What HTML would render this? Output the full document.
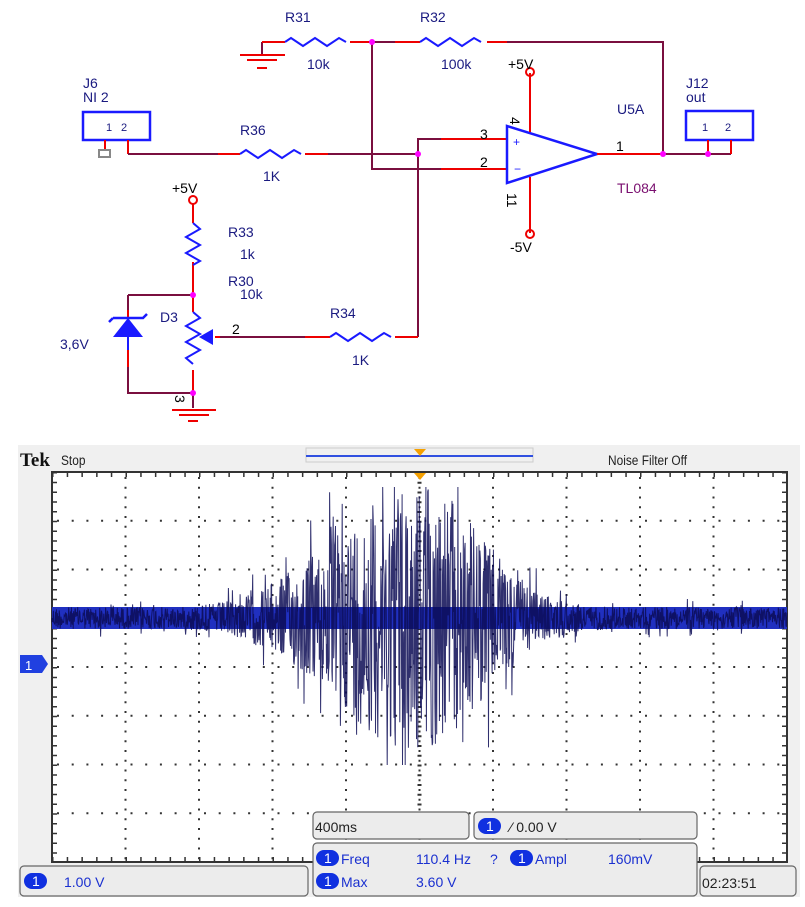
<!DOCTYPE html>
<html><head><meta charset="utf-8"><style>
html,body{margin:0;padding:0;background:#fff;}
svg{display:block}
</style></head><body>
<svg id="s" width="805" height="907" viewBox="0 0 805 907" xmlns="http://www.w3.org/2000/svg" font-family="Liberation Sans, Arial, sans-serif">
<g fill="none" stroke-width="2">
<path d="M262 42V55" stroke="#7a0f3f"/>
<path d="M240 55h45M247 60h30M257 68h10" stroke="#e00"/>
<path d="M262 42h23" stroke="#e00"/>
<path d="M285 42l6-4 12 8 12-8 12 8 12-8 7 4" stroke="#1a1aff"/>
<path d="M350 42h22" stroke="#e00"/>
<path d="M372 42h23" stroke="#7a0f3f"/>
<path d="M395 42h25" stroke="#e00"/>
<path d="M420 42l6-4 12 8 12-8 12 8 12-8 7 4" stroke="#1a1aff"/>
<path d="M487 42h20" stroke="#e00"/>
<path d="M507 42h156V154" stroke="#7a0f3f"/>
<path d="M372 42V169H418h23" stroke="#7a0f3f"/>
<path d="M441 169h66" stroke="#e00"/>
<rect x="83" y="112" width="67" height="28" stroke="#1a1aff" stroke-width="2.5"/>
<path d="M105 140v10M128 140v14" stroke="#e00"/>
<rect x="99" y="150" width="11" height="7" stroke="#888" stroke-width="2"/>
<path d="M128 154h90" stroke="#7a0f3f"/>
<path d="M218 154h22" stroke="#e00"/>
<path d="M240 154l6-4 12 8 12-8 12 8 12-8 7 4" stroke="#1a1aff"/>
<path d="M305 154h23" stroke="#e00"/>
<path d="M328 154h89" stroke="#7a0f3f"/>
<path d="M418 337V139h23" stroke="#7a0f3f"/>
<path d="M441 139h66" stroke="#e00"/>
<path d="M507 126V183L597 154Z" stroke="#1a1aff" stroke-width="2.5"/>
<path d="M530 73V132M530 177V233" stroke="#e00"/>
<circle cx="530" cy="72" r="4" stroke="#e00"/>
<circle cx="530" cy="234" r="4" stroke="#e00"/>
<path d="M597 154h66" stroke="#e00"/>
<path d="M663 154h68" stroke="#7a0f3f"/>
<rect x="686" y="111" width="67" height="29" stroke="#1a1aff" stroke-width="2.5"/>
<path d="M708 140v14M731 140v14" stroke="#e00"/>
<circle cx="193" cy="200" r="4" stroke="#e00"/>
<path d="M193 204V223M193 262V295" stroke="#e00"/>
<path d="M193 223l7 6-14 8 14 8-14 8 14 8-7 4" stroke="#1a1aff"/>
<path d="M128 295h65" stroke="#7a0f3f"/>
<path d="M128 295V310" stroke="#7a0f3f"/>
<path d="M128 310V318M128 350V367" stroke="#e00"/>
<path d="M128 318V350" stroke="#1a1aff"/>
<path d="M128 367V393h65" stroke="#7a0f3f"/>
<path d="M193 295V312M193 370V393" stroke="#e00"/>
<path d="M193 312l7 6-14 8 14 8-14 8 14 8-14 8 7 6" stroke="#1a1aff"/>
<path d="M193 393V408" stroke="#7a0f3f"/>
<path d="M172 410h44M179 415h30M188 421h10" stroke="#e00"/>
<path d="M215 337h5" stroke="#e00"/>
<path d="M220 337h85" stroke="#7a0f3f"/>
<path d="M305 337h25" stroke="#e00"/>
<path d="M330 337l6-4 12 8 12-8 12 8 12-8 7 4" stroke="#1a1aff"/>
<path d="M395 337h23" stroke="#e00"/>
</g>
<path d="M113 337L128 318L143 337Z" fill="#1a1aff"/>
<path d="M113 318h30l4 -4M113 318l-4 4" stroke="#1a1aff" stroke-width="2.5" fill="none"/>
<path d="M199 337L213 329V345Z" fill="#1a1aff"/>
<g fill="#f0f">
<circle cx="372" cy="42" r="3"/><circle cx="418" cy="154" r="3"/><circle cx="663" cy="154" r="3"/><circle cx="708" cy="154" r="3"/>
<circle cx="193" cy="295" r="3"/><circle cx="193" cy="393" r="3"/>
</g>
<g font-size="14" fill="#1a1a80">
<text x="285" y="22">R31</text><text x="307" y="69">10k</text>
<text x="420" y="22">R32</text><text x="441" y="69">100k</text>
<text x="83" y="88">J6</text><text x="83" y="102">NI 2</text>
<text x="240" y="135">R36</text><text x="263" y="181">1K</text>
<text x="686" y="88">J12</text><text x="686" y="102">out</text>
<text x="617" y="114">U5A</text><text x="617" y="193" fill="#7a0f6f">TL084</text>
<text x="228" y="237">R33</text><text x="240" y="259">1k</text>
<text x="228" y="286">R30</text><text x="240" y="299">10k</text>
<text x="160" y="322">D3</text><text x="60" y="349">3,6V</text>
<text x="330" y="318">R34</text><text x="352" y="365">1K</text>
<text x="106" y="131" font-size="11">1</text><text x="121" y="131" font-size="11">2</text>
<text x="702" y="131" font-size="11">1</text><text x="725" y="131" font-size="11">2</text>
</g>
<g font-size="14" fill="#000">
<text x="508" y="69">+5V</text><text x="510" y="252">-5V</text><text x="172" y="193">+5V</text>
<text x="480" y="139">3</text><text x="480" y="167">2</text><text x="616" y="151">1</text>
<text x="232" y="334">2</text>
<text x="520" y="117" transform="rotate(90 515 112)">4</text>
<text x="505" y="205" transform="rotate(90 512 200)">11</text>
<text x="174" y="404" transform="rotate(90 179 400)">3</text>
</g>
<text x="513" y="146" font-size="12" fill="#1a1aff">+</text><text x="514" y="173" font-size="12" fill="#1a1aff">−</text>
<rect x="18" y="445" width="782" height="452" fill="#f0f0f0"/>
<text x="20" y="466" font-family="Liberation Serif, serif" font-weight="bold" font-size="19" fill="#111">Tek</text>
<text x="61" y="465" font-size="14" fill="#222" transform="scale(0.85 1)" transform-origin="61 465">Stop</text>
<rect x="306" y="448" width="227" height="14" fill="none" stroke="#ccc"/>
<path d="M306 456h227" stroke="#3050e0" stroke-width="2"/>
<path d="M414 449h12l-6 7z" fill="#f5a000"/>
<text x="608" y="465" font-size="14" fill="#222" transform="scale(0.85 1)" transform-origin="608 465">Noise Filter Off</text>
<rect x="52" y="472" width="735" height="390" fill="#fff" stroke="#333" stroke-width="2"/>
<g id="grid" fill="#333"></g>
<path d="M414 473h12l-6 7z" fill="#f5a000"/>
<rect x="52" y="607" width="735" height="22" fill="#2030c0"/>
<g id="tr"></g>
<path d="M20 655h22l6 9-6 9h-22z" fill="#2040e0"/><text x="25" y="670" font-size="13" fill="#fff">1</text>
<g stroke="#666" stroke-width="1.2" fill="#ececec">
<rect x="313" y="812" width="156" height="27" rx="4"/>
<rect x="474" y="812" width="223" height="27" rx="4"/>
<rect x="313" y="843" width="384" height="53" rx="4"/>
<rect x="20" y="866" width="288" height="30" rx="4"/>
<rect x="700" y="866" width="96" height="30" rx="4"/>
</g>
<g fill="#1030e0">
<rect x="478" y="818" width="23" height="16" rx="8"/>
<rect x="316" y="850" width="23" height="16" rx="8"/>
<rect x="510" y="850" width="23" height="16" rx="8"/>
<rect x="316" y="873" width="23" height="16" rx="8"/>
<rect x="24" y="873" width="23" height="16" rx="8"/>
</g>
<g font-size="14" fill="#fff"><text x="486" y="831">1</text><text x="324" y="863">1</text><text x="518" y="863">1</text><text x="324" y="886">1</text><text x="32" y="886">1</text></g>
<g font-size="14" fill="#222"><text x="315" y="832">400ms</text><text x="510" y="832">⁄ 0.00 V</text><text x="702" y="888">02:23:51</text></g>
<g font-size="14" fill="#1a30d0"><text x="341" y="864">Freq</text><text x="416" y="864">110.4 Hz</text><text x="490" y="864">?</text><text x="535" y="864">Ampl</text><text x="608" y="864">160mV</text>
<text x="341" y="887">Max</text><text x="416" y="887">3.60 V</text><text x="64" y="887">1.00 V</text></g>
</svg>
<script>
(function(){
var g=document.getElementById("grid"),t=document.getElementById("tr");
var L=52,R=787,T=472,B=862,dx=(R-L)/10,dy=(B-T)/8,h="";
for(var i=1;i<10;i++){var x=L+i*dx;for(var y=T+5;y<B;y+=dy/5)h+='<rect x="'+(x-1)+'" y="'+y+'" width="2" height="2"/>';}
for(var j=1;j<8;j++){var y=T+j*dy;for(var x=L+5;x<R;x+=dx/5)h+='<rect x="'+x+'" y="'+(y-1)+'" width="2" height="2"/>';}
for(var x=L;x<R;x+=dx/5){h+='<rect x="'+x+'" y="'+T+'" width="1.5" height="5"/><rect x="'+x+'" y="'+(B-5)+'" width="1.5" height="5"/>';}
for(var y=T;y<B;y+=dy/5){h+='<rect x="'+L+'" y="'+y+'" width="5" height="1.5"/><rect x="'+(R-5)+'" y="'+y+'" width="5" height="1.5"/>';}
for(var y=T;y<B;y+=dy/5)h+='<rect x="'+(L+5*dx-2)+'" y="'+y+'" width="4" height="2"/>';
g.innerHTML=h;
var s=12345;function r(){s=(s*1103515245+12345)%2147483648;return s/2147483648;}
var d="M52 618";
for(var x=52;x<787;x+=0.45){
 var e=13+ (x>190&&x<620? 140*Math.exp(-Math.pow((x-425)/80,2)) + 45*Math.exp(-Math.pow((x-330)/75,2)):0);
 var v=(r()*2-1)*e*(r()<0.1?1.5:0.85);
 var y=618+v; if(y<487)y=487; if(y>765)y=765;
 d+="L"+x.toFixed(1)+" "+y.toFixed(1);
}
t.innerHTML='<path d="'+d+'" fill="none" stroke="#0c0c55" stroke-width="1" stroke-opacity="0.85"/>';
})();
</script>
</body></html>
